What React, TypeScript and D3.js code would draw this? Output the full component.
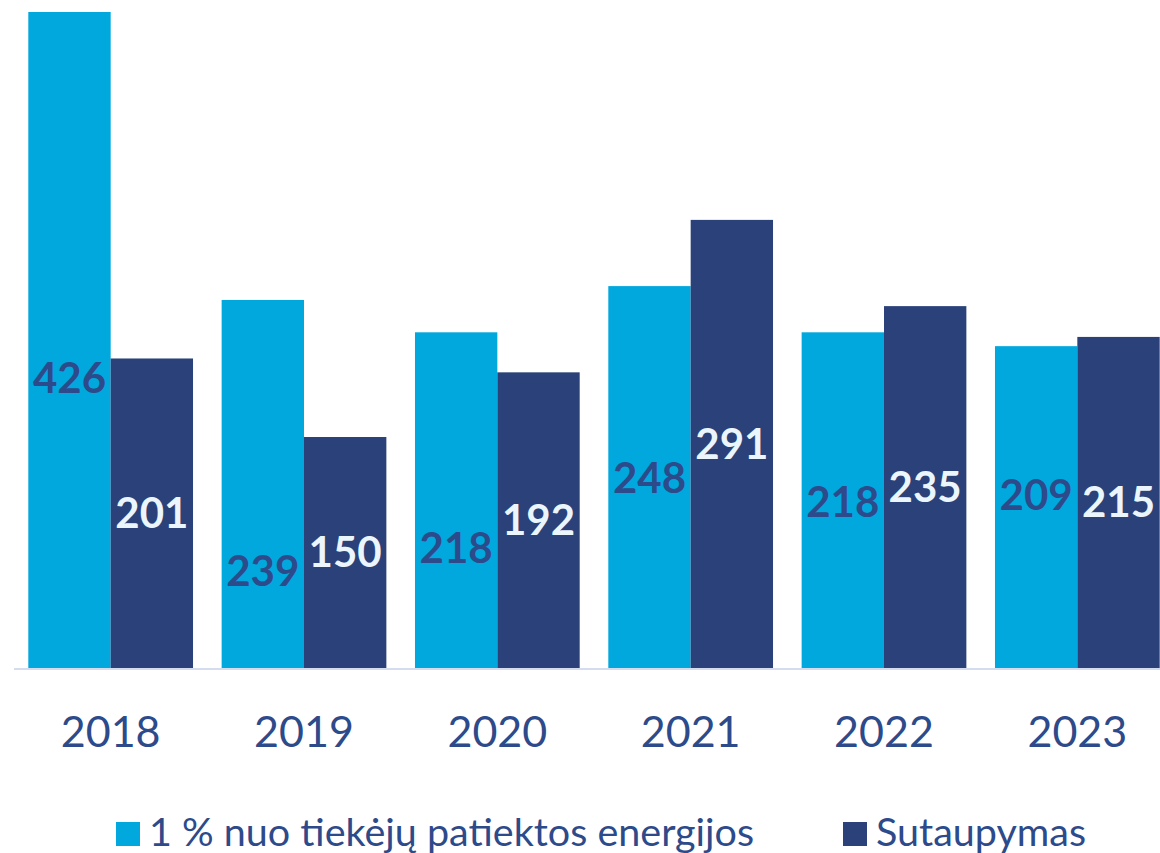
import { useRef, useEffect } from "react";
import * as d3 from "d3";

const years = ["2018", "2019", "2020", "2021", "2022", "2023"];
const supplied = [426, 239, 218, 248, 218, 209];
const savings = [201, 150, 192, 291, 235, 215];
// where the labels of the light bars sit, in value units
const suppliedLabelAt = [188, 63, 78, 123, 107.5, 112];
const seriesNames = ["1 % nuo tiekėjų patiektos energijos", "Sutaupymas"];

const width = 1160;
const height = 853;
const COLORS = ["#00a8de", "#2a4179"];
const TEXT = "#2d4a8a";
const FONT = "Lato, 'Open Sans', sans-serif";

export default function App() {
  const ref = useRef<SVGSVGElement | null>(null);

  useEffect(() => {
    const svg = d3
      .select(ref.current)
      .attr("width", width)
      .attr("height", height)
      .attr("viewBox", `0 0 ${width} ${height}`);

    svg.selectAll("*").remove();

    const baseY = 668;

    const x = d3
      .scaleBand()
      .domain(years)
      .range([14, 1174])
      .paddingInner(0.148)
      .paddingOuter(0.074);

    const xSub = d3
      .scaleBand()
      .domain(["0", "1"])
      .range([0, x.bandwidth()]);

    const y = d3.scaleLinear().domain([0, 426]).range([baseY, 12]);

    const rows = years.map((yr, i) => ({
      yr,
      vals: [supplied[i], savings[i]],
      anchor: suppliedLabelAt[i],
    }));

    const g = svg
      .selectAll("g.grp")
      .data(rows)
      .join("g")
      .attr("class", "grp")
      .attr("transform", (d) => `translate(${x(d.yr)},0)`);

    g.selectAll("rect")
      .data((d) => d.vals.map((v, k) => ({ v, k })))
      .join("rect")
      .attr("x", (d) => xSub(String(d.k))!)
      .attr("width", xSub.bandwidth())
      .attr("y", (d) => y(d.v))
      .attr("height", (d) => baseY - y(d.v))
      .attr("fill", (d) => COLORS[d.k]);

    // baseline
    svg
      .append("line")
      .attr("x1", 14)
      .attr("x2", width)
      .attr("y1", baseY + 1)
      .attr("y2", baseY + 1)
      .attr("stroke", "#d6dcef")
      .attr("stroke-width", 2);

    // value labels
    g.append("text")
      .attr("x", xSub("0")! + xSub.bandwidth() / 2)
      .attr("y", (d) => y(d.anchor))
      .attr("dy", "0.35em")
      .attr("text-anchor", "middle")
      .attr("font-family", FONT)
      .attr("font-weight", 700)
      .attr("font-size", 42)
      .attr("fill", TEXT)
      .text((d) => d.vals[0]);

    g.append("text")
      .attr("x", xSub("1")! + xSub.bandwidth() / 2)
      .attr("y", (d) => (y(d.vals[1]) + baseY) / 2)
      .attr("dy", "0.35em")
      .attr("text-anchor", "middle")
      .attr("font-family", FONT)
      .attr("font-weight", 700)
      .attr("font-size", 42)
      .attr("fill", "#eaf5fc")
      .text((d) => d.vals[1]);

    // year labels
    g.append("text")
      .attr("x", x.bandwidth() / 2)
      .attr("y", 747)
      .attr("text-anchor", "middle")
      .attr("font-family", FONT)
      .attr("font-size", 43)
      .attr("fill", TEXT)
      .text((d) => d.yr);

    // legend
    const legendX = [116, 843];
    const lg = svg
      .selectAll("g.legend")
      .data(seriesNames)
      .join("g")
      .attr("class", "legend")
      .attr("transform", (_, i) => `translate(${legendX[i]},0)`);

    lg.append("rect")
      .attr("x", 0)
      .attr("y", 822)
      .attr("width", 24)
      .attr("height", 24)
      .attr("fill", (_, i) => COLORS[i]);

    lg.append("text")
      .attr("x", 33)
      .attr("y", 846)
      .attr("font-family", FONT)
      .attr("font-size", 39.5)
      .attr("fill", TEXT)
      .text((d) => d);
  }, []);

  return (
    <svg
      ref={ref}
      style={{ position: "absolute", left: 0, top: 0, display: "block" }}
    />
  );
}
